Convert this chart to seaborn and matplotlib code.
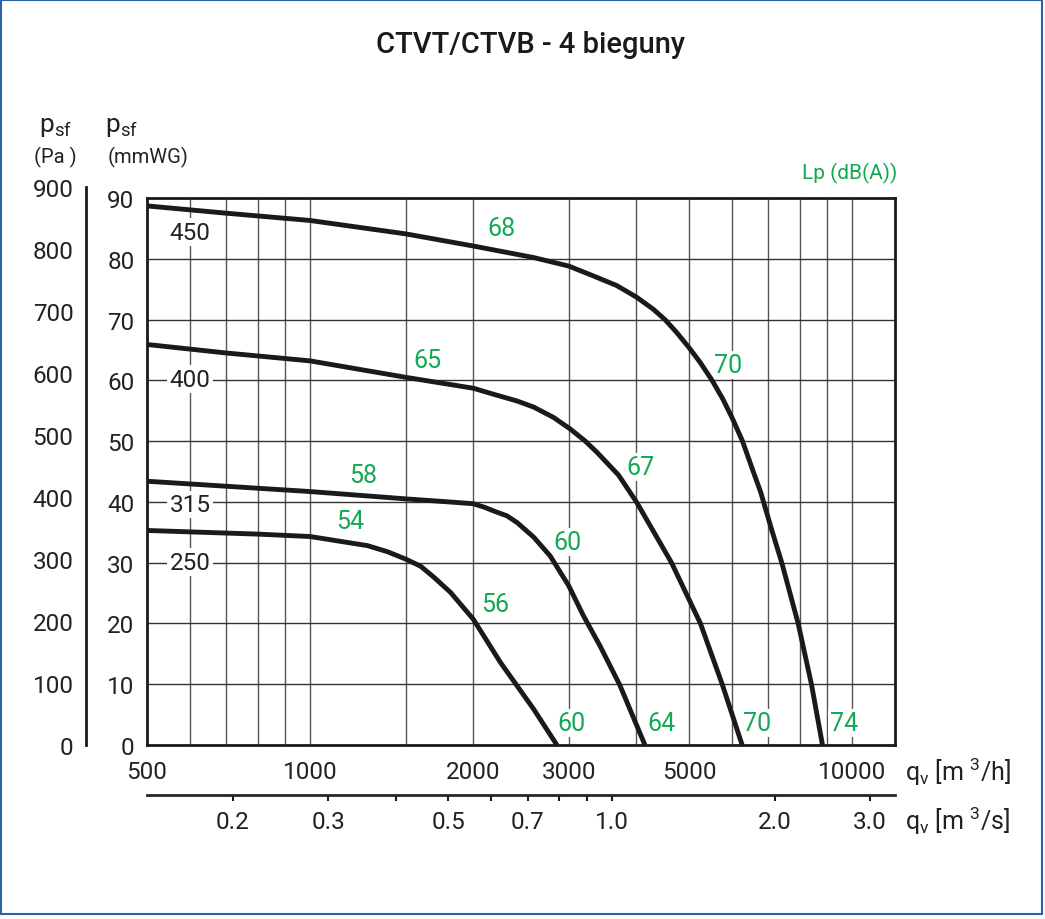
import numpy as np
import matplotlib
matplotlib.use('Agg')
import matplotlib.pyplot as plt
from matplotlib.ticker import FixedLocator, NullLocator, NullFormatter
from matplotlib.patches import Rectangle
import seaborn as sns

# fan curves: air flow qv [m3/h] against static pressure psf [mmWG]
q_450 = [500, 700, 1000, 1500, 2000, 2585, 3000, 3327, 3677, 4000, 4297, 4515, 4743, 5000, 5239,
         5516, 5776, 6002, 6277, 6546, 6782, 7118, 7417, 7952, 8414, 8818]
p_450 = [88.7, 87.5, 86.3, 84.1, 82.1, 80.2, 78.8, 77.2, 75.6, 73.7, 71.7, 70.0, 67.9, 65.4, 63.0,
         60.0, 56.9, 53.9, 50.0, 45.4, 41.6, 35.2, 30.0, 20.0, 10.0, 0.0]
q_400 = [500, 700, 1000, 1500, 2000, 2182, 2409, 2585, 2812, 3019, 3209, 3379, 3708, 4000, 4643,
         5250, 5759, 6268]
p_400 = [65.9, 64.5, 63.2, 60.5, 58.7, 57.7, 56.6, 55.6, 53.9, 52.0, 50.1, 48.2, 44.4, 40.0, 30.0,
         20.0, 10.0, 0.0]
q_315 = [500, 1000, 1500, 1800, 2000, 2100, 2182, 2308, 2409, 2585, 2773, 3000, 3192, 3427, 3730, 4147]
p_315 = [43.4, 41.7, 40.5, 40.0, 39.7, 39.1, 38.5, 37.7, 36.6, 34.2, 31.1, 26.2, 21.3, 16.3, 9.8, 0.0]
q_250 = [500, 800, 1000, 1276, 1389, 1500, 1600, 1692, 1816, 2000, 2244, 2585, 2853]
p_250 = [35.3, 34.7, 34.3, 32.8, 31.8, 30.6, 29.4, 27.6, 25.1, 20.7, 13.6, 5.9, 0.0]

# fan size labels
size_text = ['450', '400', '315', '250']
size_q = [600, 600, 600, 600]
size_p = [84.4, 60.2, 39.6, 30.1]

# sound pressure level labels Lp dB(A)
lp_text = ['68', '65', '58', '54', '70', '67', '60', '56', '60', '64', '70', '74']
lp_q = [2254, 1648, 1251, 1184, 5916, 4076, 2980, 2197, 3030, 4456, 6690, 9667]
lp_p = [85.1, 63.3, 44.4, 36.9, 62.5, 45.7, 33.4, 23.2, 3.6, 3.6, 3.6, 3.6]

x_major = [500, 1000, 2000, 3000, 5000, 10000]
x_minor = [600, 700, 800, 900, 4000, 6000, 7000, 8000, 9000]
x_grid = [600, 700, 800, 900, 1000, 1500, 2000, 3000, 4000, 5000, 6000, 7000, 8000, 9000, 10000]
y_mmwg = list(range(0, 100, 10))
y_pa = list(range(0, 1000, 100))
qs_ticks = [0.2, 0.3, 0.4, 0.5, 0.6, 0.7, 0.8, 0.9, 1.0, 2.0, 3.0]
qs_labels = ['0.2', '0.3', '', '0.5', '', '0.7', '', '', '1.0', '2.0', '3.0']

GREEN = '#15a854'
INK = '#222222'
TICK_FS = 17.5


def main():
    sns.set_style('white')
    plt.rcParams['font.family'] = ['Roboto', 'DejaVu Sans']
    plt.rcParams['mathtext.fontset'] = 'custom'
    plt.rcParams['mathtext.rm'] = 'Roboto'

    W, H = 1045, 920
    fig = plt.figure(figsize=(W / 100, H / 100), dpi=100)
    left, bottom = 147 / W, 1 - 746 / H
    width, height = 748 / W, 547 / H
    ax = fig.add_axes([left, bottom, width, height])
    ax.set_xscale('log')
    ax.set_xlim(500, 12000)
    ax.set_ylim(0, 90)

    for xg in x_grid:
        ax.axvline(xg, color='#555555', lw=1.0, zorder=1)
    for yg in y_mmwg[1:-1]:
        ax.axhline(yg, color='#333333', lw=1.0, zorder=1)

    for q, p in [(q_450, p_450), (q_400, p_400), (q_315, p_315), (q_250, p_250)]:
        sns.lineplot(x=q, y=p, ax=ax, color='#1a1a1a', lw=3.5, sort=False, zorder=4,
                     solid_joinstyle='round', solid_capstyle='butt')

    box = dict(facecolor='white', edgecolor='none', pad=1.5)
    for t, q, p in zip(size_text, size_q, size_p):
        ax.text(q, p, t, ha='center', va='center', fontsize=TICK_FS, color=INK, bbox=box, zorder=3)
    for t, q, p in zip(lp_text, lp_q, lp_p):
        ax.text(q, p, t, ha='center', va='center', fontsize=18, color=GREEN, bbox=box, zorder=3)

    for s in ax.spines.values():
        s.set_linewidth(2.0)
        s.set_color('#1a1a1a')

    ax.xaxis.set_major_locator(FixedLocator(x_major))
    ax.xaxis.set_minor_locator(FixedLocator(x_minor))
    ax.xaxis.set_minor_formatter(NullFormatter())
    ax.set_xticklabels([str(v) for v in x_major])
    ax.yaxis.set_major_locator(FixedLocator(y_mmwg))
    ax.yaxis.set_minor_locator(NullLocator())
    ax.set_yticklabels([str(v) for v in y_mmwg])
    ax.tick_params(axis='x', which='both', direction='out', length=4, width=1.5,
                   labelsize=TICK_FS, pad=6.5, colors='#1a1a1a', labelcolor=INK)
    ax.tick_params(axis='y', direction='out', length=7, width=1.5,
                   labelsize=TICK_FS, pad=2, colors='#1a1a1a', labelcolor=INK)

    # second flow axis in m3/s
    sec = ax.secondary_xaxis(-50 / 547, functions=(lambda v: np.asarray(v) / 3600.0,
                                                    lambda v: np.asarray(v) * 3600.0))
    sec.set_xticks(qs_ticks)
    sec.set_xticklabels(qs_labels)
    sec.xaxis.set_minor_locator(NullLocator())
    sec.spines['bottom'].set_linewidth(2.0)
    sec.tick_params(axis='x', direction='out', length=4, width=1.5, labelsize=TICK_FS, pad=6.5,
                    colors='#1a1a1a', labelcolor=INK)

    # pressure axis in Pa (1 mmWG = 9.81 Pa)
    pa = fig.add_axes([86 / W, bottom, 0.0005, height * 900 / (90 * 9.81)])
    pa.set_ylim(0, 900)
    pa.set_xticks([])
    for k in ['top', 'right', 'bottom']:
        pa.spines[k].set_visible(False)
    pa.spines['left'].set_linewidth(2.0)
    pa.spines['left'].set_color('#1a1a1a')
    pa.patch.set_visible(False)
    pa.yaxis.set_major_locator(FixedLocator(y_pa))
    pa.set_yticklabels([str(v) for v in y_pa])
    pa.tick_params(axis='y', direction='out', length=7, width=1.5, labelsize=TICK_FS, pad=2,
                   colors='#1a1a1a', labelcolor=INK)

    # texts around the chart
    def fx(px):
        return px / W

    def fy(py):
        return 1 - py / H

    fig.text(fx(530), fy(45), 'CTVT/CTVB - 4 bieguny', ha='center', va='center',
             fontsize=21, fontweight='medium', color='#1a1a1a')
    fig.text(fx(39), fy(127), r'p$_\mathregular{sf}$', ha='left', va='center', fontsize=19, color=INK)
    fig.text(fx(55), fy(157), '(Pa )', ha='center', va='center', fontsize=14.5, color=INK)
    fig.text(fx(105), fy(127), r'p$_\mathregular{sf}$', ha='left', va='center', fontsize=19, color=INK)
    fig.text(fx(148), fy(157), '(mmWG)', ha='center', va='center', fontsize=14.5, color=INK)
    fig.text(fx(897), fy(173), 'Lp (dB(A))', ha='right', va='center', fontsize=15, color=GREEN)
    fig.text(fx(905), fy(772), r'q$_\mathregular{v}$ [m $^\mathregular{3}$/h]', ha='left', va='center',
             fontsize=18, color=INK)
    fig.text(fx(905), fy(821), r'q$_\mathregular{v}$ [m $^\mathregular{3}$/s]', ha='left', va='center',
             fontsize=18, color=INK)

    fig.patches.append(Rectangle((1 / W, 1 - 915 / H), 1041 / W, 914 / H, transform=fig.transFigure,
                                 fill=False, edgecolor='#2b62a6', lw=1.5))

    fig.savefig('out.png', dpi=100)


if __name__ == '__main__':
    main()
